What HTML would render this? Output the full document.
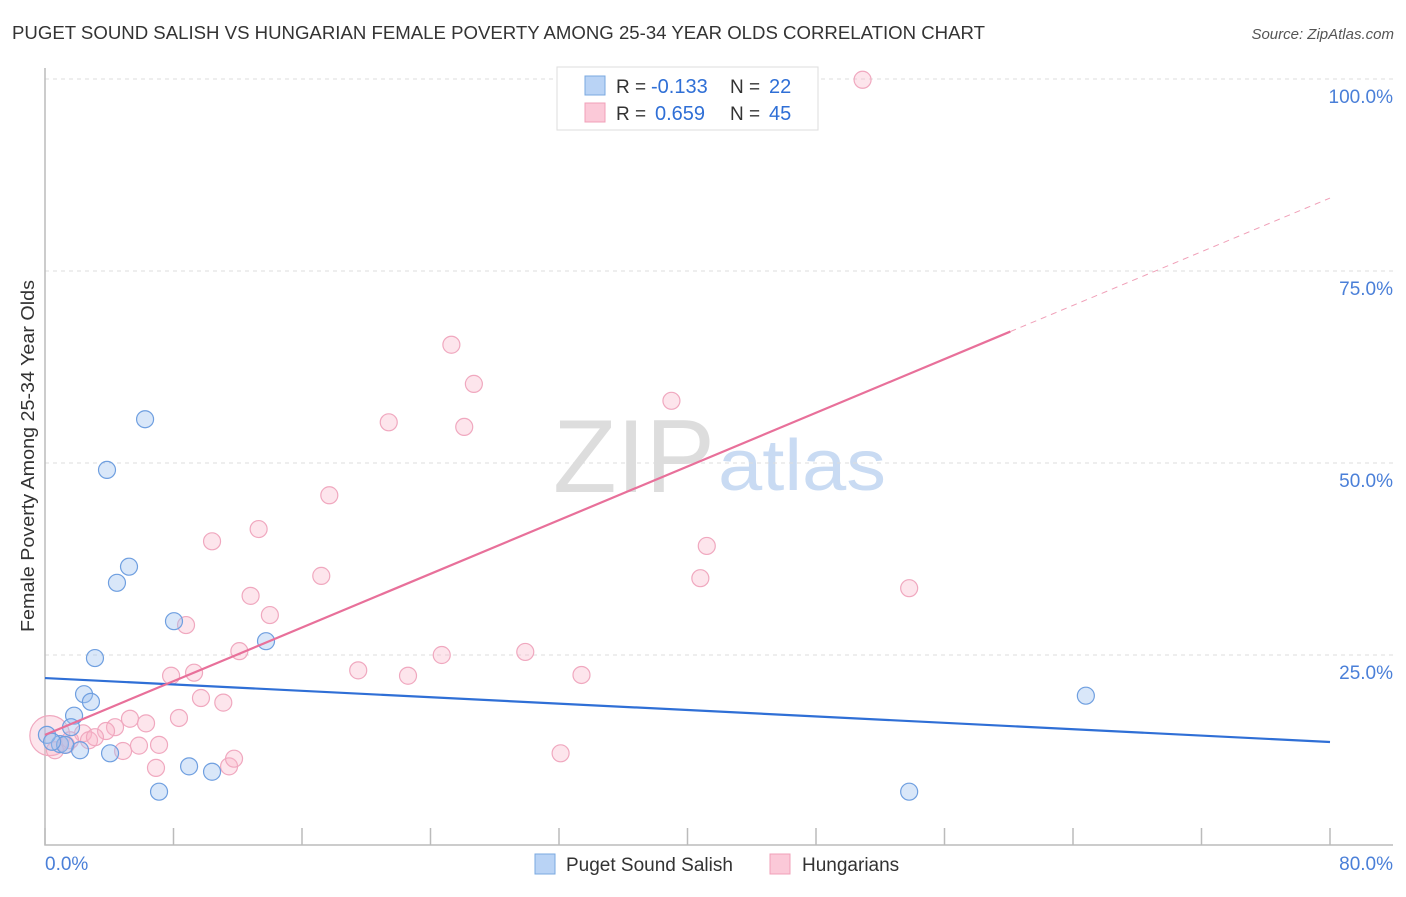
<!DOCTYPE html>
<html><head><meta charset="utf-8"><style>
body{margin:0;background:#fff;font-family:"Liberation Sans",sans-serif}
svg text{font-family:"Liberation Sans",sans-serif}
</style></head><body>
<svg id="c" width="1406" height="892">
<text x="12" y="39" font-size="18" textLength="973" lengthAdjust="spacingAndGlyphs" fill="#333">PUGET SOUND SALISH VS HUNGARIAN FEMALE POVERTY AMONG 25-34 YEAR OLDS CORRELATION CHART</text>
<text x="1394" y="39" font-size="15" fill="#555" font-style="italic" text-anchor="end">Source: ZipAtlas.com</text>
<text x="553" y="492" font-size="104" textLength="162" lengthAdjust="spacingAndGlyphs" fill="#ddd" font-family="Liberation Serif">ZIP</text>
<text x="718" y="490" font-size="72" textLength="168" lengthAdjust="spacingAndGlyphs" fill="#c9dbf3">atlas</text>
<g id="grid"></g><g id="marks"></g>
<text transform="translate(34,456) rotate(-90)" font-size="18.5" textLength="352" lengthAdjust="spacingAndGlyphs" fill="#333" text-anchor="middle">Female Poverty Among 25-34 Year Olds</text>
<g>
<rect x="557" y="67" width="261" height="63" fill="#fff" stroke="#ddd"/>
<rect x="585" y="76" width="20" height="19" fill="#b9d3f5" stroke="#7aa8e0"/>
<rect x="585" y="103" width="20" height="19" fill="#fbc9d8" stroke="#f0a0b8"/>
<text x="616" y="93" font-size="19" fill="#333">R =</text>
<text x="651" y="93" font-size="20" fill="#2f6fd6">-0.133</text>
<text x="730" y="93" font-size="19" fill="#333">N =</text>
<text x="769" y="93" font-size="20" fill="#2f6fd6">22</text>
<text x="616" y="120" font-size="19" fill="#333">R =</text>
<text x="655" y="120" font-size="20" fill="#2f6fd6">0.659</text>
<text x="730" y="120" font-size="19" fill="#333">N =</text>
<text x="769" y="120" font-size="20" fill="#2f6fd6">45</text>
</g>
<g>
<rect x="535" y="854" width="20" height="20" fill="#b9d3f5" stroke="#7aa8e0"/>
<text x="566" y="871" font-size="19" fill="#333">Puget Sound Salish</text>
<rect x="770" y="854" width="20" height="20" fill="#fbc9d8" stroke="#f0a0b8"/>
<text x="802" y="871" font-size="19" fill="#333">Hungarians</text>
</g>
</svg>
<script>
const yTicks=[25,50,75,100];
const yTickLabels=["25.0%","50.0%","75.0%","100.0%"];
const xTicks=[0,8,16,24,32,40,48,56,64,72,80];
const blueX=[6.23,3.86,5.23,4.48,8.03,13.76,3.11,2.43,2.86,1.81,1.62,0.93,2.18,4.05,8.97,10.4,7.1,53.8,64.8,0.12,1.25,0.44];
const blueY=[55.7,49.1,36.5,34.4,29.4,26.8,24.6,19.9,18.9,17.1,15.6,13.4,12.6,12.2,10.5,9.8,7.2,7.2,19.7,14.6,13.3,13.7];
const pinkX=[0.3,50.9,25.3,26.7,21.4,26.1,39.0,17.7,13.3,10.4,41.2,17.2,40.8,53.8,12.8,14.0,8.78,9.28,12.1,19.5,22.6,24.7,29.9,33.4,7.85,9.71,11.1,8.34,5.29,6.29,4.36,3.8,2.37,2.74,5.85,7.1,4.86,6.91,11.46,11.77,32.1,1.31,0.62,3.11,1.56];
const pinkY=[14.5,99.9,65.4,60.3,55.3,54.7,58.1,45.8,41.4,39.8,39.2,35.3,35.0,33.7,32.7,30.2,28.9,22.7,25.5,23.0,22.3,25.0,25.4,22.4,22.3,19.4,18.8,16.8,16.7,16.1,15.6,15.1,14.8,13.9,13.2,13.3,12.5,10.3,10.5,11.5,12.2,13.3,12.6,14.3,13.9];
const blueTrend=[22.0,13.67];
const pinkTrend=[14.6,84.5];
const pinkSolidEnd=60.1;
const X=v=>45+v*16.0625, Y=v=>847-v*7.68;
const NS="http://www.w3.org/2000/svg";
const grid=document.getElementById('grid'), marks=document.getElementById('marks');
function mk(tag,at,parent){const e=document.createElementNS(NS,tag);for(const k in at)e.setAttribute(k,at[k]);parent.appendChild(e);return e;}
yTicks.forEach((t,i)=>{
 const l=mk('line',{x1:45,x2:1393,y1:Y(t),y2:Y(t),stroke:'#ddd','stroke-dasharray':'4,4'},grid);
 
 
 const tx=mk('text',{x:1393,y:Y(t)+24,'font-size':19,fill:'#4a7fd8','text-anchor':'end'},grid);
 tx.textContent=yTickLabels[i];
 
 
});
const ax=mk('path',{d:'M45,68V845H1393',fill:'none',stroke:'#bbb','stroke-width':1.5},grid);


xTicks.forEach(t=>{const l=mk('line',{x1:X(t),x2:X(t),y1:828,y2:845,stroke:'#bbb','stroke-width':1.5},grid);
 
 });
[[0,"0.0%",'start',45],[80,"80.0%",'end',1393]].forEach(a=>{const t=mk('text',{x:a[3],y:870,'font-size':19,fill:'#4a7fd8','text-anchor':a[2]},grid);t.textContent=a[1];
 
 });
pinkX.forEach((x,i)=>{const c=mk('circle',{cx:X(x),cy:Y(pinkY[i]),r:i==0?20:8.5,fill:'rgba(248,180,200,0.35)',stroke:'#f0a8bf','stroke-width':1.2},marks);
 
 });
blueX.forEach((x,i)=>{const c=mk('circle',{cx:X(x),cy:Y(blueY[i]),r:8.5,fill:'rgba(160,196,240,0.4)',stroke:'#6f9fe0','stroke-width':1.2},marks);
 
 });
const pAt=v=>pinkTrend[0]+(pinkTrend[1]-pinkTrend[0])*v/80;
let l=mk('line',{x1:X(0),y1:Y(blueTrend[0]),x2:X(80),y2:Y(blueTrend[1]),stroke:'#2f6fd6','stroke-width':2.2},marks);


l=mk('line',{x1:X(0),y1:Y(pAt(0)),x2:X(pinkSolidEnd),y2:Y(pAt(pinkSolidEnd)),stroke:'#e8709a','stroke-width':2.2},marks);


l=mk('line',{x1:X(pinkSolidEnd),y1:Y(pAt(pinkSolidEnd)),x2:X(80),y2:Y(pAt(80)),stroke:'#f0a0b8','stroke-width':1,'stroke-dasharray':'6,5'},marks);


</script>
</body></html>
